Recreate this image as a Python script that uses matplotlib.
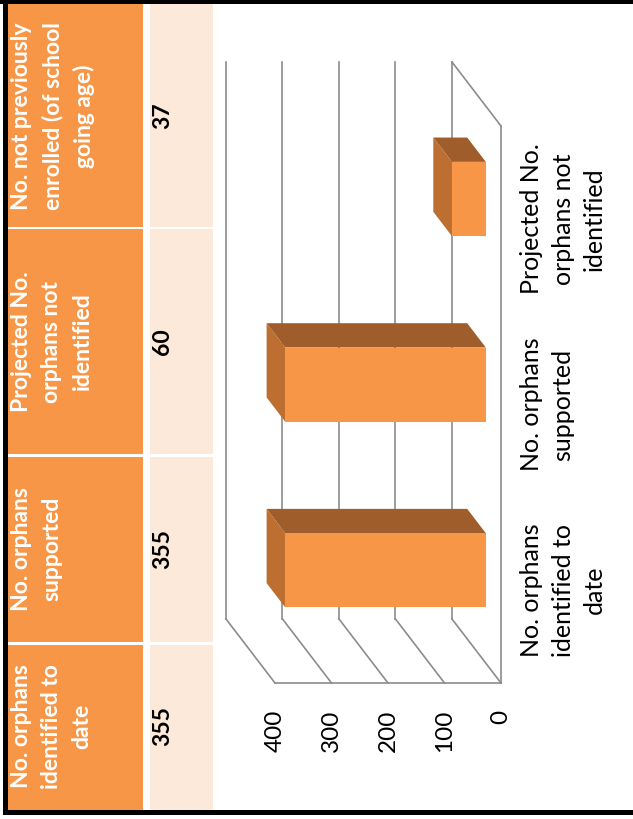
import matplotlib
matplotlib.use("Agg")
import matplotlib.pyplot as plt
from matplotlib.patches import Polygon, Rectangle

plt.rcParams['font.family'] = ['Lato', 'DejaVu Sans']

# Chart data
categories = ["No. orphans\nidentified to\ndate",
              "No. orphans\nsupported",
              "Projected No.\norphans not\nidentified"]
values = [355, 355, 60]
value_ticks = [0, 100, 200, 300, 400]

# Summary table (shown beside the chart)
table_headers = ["No. orphans\nidentified to\ndate",
                 "No. orphans\nsupported",
                 "Projected No.\norphans not\nidentified",
                 "No. not previously\nenrolled (of school\ngoing age)"]
table_values = [355, 355, 60, 37]

ORANGE = "#F79646"
PEACH = "#FDE9D9"
BAR_TOP = "#BC6F30"
BAR_SIDE = "#9E5D2A"
GRID = "#8C8C8C"

W, H = 633, 819
fig = plt.figure(figsize=(W / 100, H / 100), dpi=100)
fig.patch.set_facecolor("white")


def fx(px):
    return px / W


def fy(py):
    return 1 - py / H


# ---- table, drawn sideways (rows run bottom to top) ----
row_edges = [810, 643, 455, 228, 4]
hdr_x0, hdr_x1 = 8, 143
val_x0, val_x1 = 150, 213
gap = 1.5
for i, (hdr, val) in enumerate(zip(table_headers, table_values)):
    y_bot, y_top = row_edges[i], row_edges[i + 1]
    yb = y_bot - (0 if i == 0 else gap)
    yt = y_top + (0 if i == len(table_headers) - 1 else gap)
    fig.add_artist(Rectangle((fx(hdr_x0), fy(yb)), fx(hdr_x1 - hdr_x0), (yb - yt) / H,
                             transform=fig.transFigure, facecolor=ORANGE, edgecolor="none"))
    fig.add_artist(Rectangle((fx(val_x0), fy(yb)), fx(val_x1 - val_x0), (yb - yt) / H,
                             transform=fig.transFigure, facecolor=PEACH, edgecolor="none"))
    yc = fy((y_bot + y_top) / 2)
    fig.text(fx(11), yc, hdr, rotation=90, ha="left", va="center", multialignment="center",
             color="white", fontsize=16.5, fontweight="bold", linespacing=1.55)
    fig.text(fx(152), yc, str(val), rotation=90, ha="left", va="center",
             color="black", fontsize=16.5, fontweight="bold")

# outer frame
fig.add_artist(Rectangle((fx(3), fy(815)), fx(5), (815 - 0) / H, transform=fig.transFigure,
                         facecolor="black", edgecolor="none"))
fig.add_artist(Rectangle((0, fy(4)), 1, 4 / H, transform=fig.transFigure,
                         facecolor="black", edgecolor="none"))
fig.add_artist(Rectangle((fx(3), fy(815)), 1, 5 / H, transform=fig.transFigure,
                         facecolor="black", edgecolor="none"))

# ---- 3-D style column chart, drawn sideways ----
# value axis runs right-to-left, categories run bottom-to-top
PX_PER_UNIT = 0.565
PX_PER_SLOT = 185.67
ZERO_PX, BASE_PY = 501, 683
ax = fig.add_axes([fx(215), 0, fx(W - 215), 1])
ax.set_xlim((ZERO_PX - 215) / PX_PER_UNIT, (ZERO_PX - W) / PX_PER_UNIT)
ax.set_ylim((BASE_PY - H) / PX_PER_SLOT, BASE_PY / PX_PER_SLOT)
ax.axis("off")

# depth direction of the oblique projection
DX = 49 / PX_PER_UNIT
DY = 64 / PX_PER_SLOT
n = len(categories)


def proj(v, c, d):
    return (v + d * DX, c + d * DY)


# back wall, side wall and floor edges
for v in value_ticks:
    ax.plot([v + DX, v + DX], [DY, n + DY], color=GRID, lw=1.2, zorder=1)
    ax.plot([v, v + DX], [0, DY], color=GRID, lw=1.2, zorder=1)
ax.plot([0, value_ticks[-1]], [0, 0], color=GRID, lw=1.2, zorder=1)
ax.plot([0, 0], [0, n], color=GRID, lw=1.2, zorder=1)
ax.plot([0, DX], [n, n + DY], color=GRID, lw=1.2, zorder=1)

# bars
half_w = 0.2
d0, d1 = 0.31, 0.69
for i, v in enumerate(values):
    c = i + 0.5
    lo, hi = c - half_w, c + half_w
    top_face = [proj(v, lo, d0), proj(v, hi, d0), proj(v, hi, d1), proj(v, lo, d1)]
    side_face = [proj(0, hi, d0), proj(v, hi, d0), proj(v, hi, d1), proj(0, hi, d1)]
    front_face = [proj(0, lo, d0), proj(v, lo, d0), proj(v, hi, d0), proj(0, hi, d0)]
    ax.add_patch(Polygon(side_face, closed=True, facecolor=BAR_SIDE, edgecolor="none", zorder=3))
    ax.add_patch(Polygon(top_face, closed=True, facecolor=BAR_TOP, edgecolor="none", zorder=3))
    ax.add_patch(Polygon(front_face, closed=True, facecolor=ORANGE, edgecolor="none", zorder=4))

# value tick labels along the front edge
tick_c = (BASE_PY - 710) / PX_PER_SLOT
for v in value_ticks:
    ax.text(v, tick_c, str(v), rotation=90, ha="center", va="top", fontsize=17.5, color="black")

# category labels
lab_v = (ZERO_PX - 520) / PX_PER_UNIT
for i, lab in enumerate(categories):
    ax.text(lab_v, i + 0.5, lab, rotation=90, ha="left", va="center", multialignment="center",
            fontsize=18, color="black", linespacing=1.45)

fig.savefig("out.png", dpi=100)
